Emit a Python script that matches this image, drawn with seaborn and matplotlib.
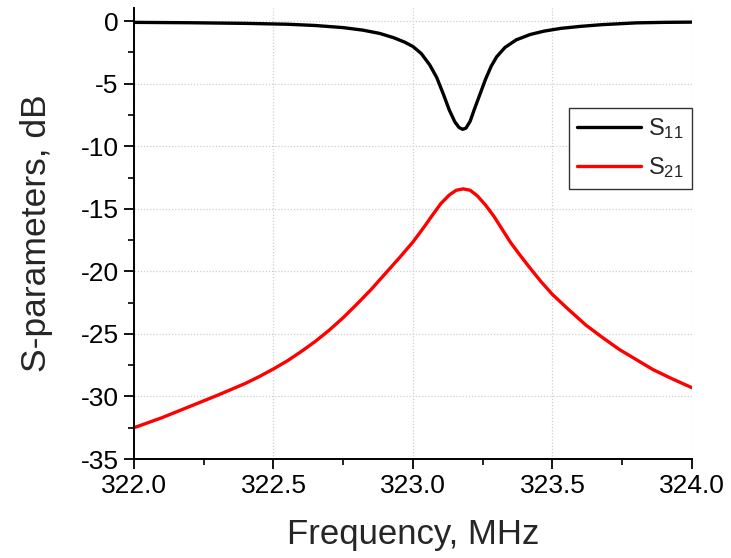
import numpy as np
import pandas as pd
import matplotlib
matplotlib.use("Agg")
import matplotlib.pyplot as plt
from matplotlib.ticker import MultipleLocator
import seaborn as sns

# S11 readings (frequency MHz, dB)
s11_freq = [322.0, 322.2, 322.4, 322.55, 322.65, 322.75, 322.82, 322.88, 322.93, 322.97,
            323.0, 323.03, 323.06, 323.085, 323.11, 323.13, 323.15, 323.165, 323.178,
            323.19, 323.205, 323.22, 323.24, 323.26, 323.28, 323.30, 323.33, 323.37,
            323.42, 323.47, 323.53, 323.6, 323.68, 323.8, 323.9, 324.0]
s11_db = [-0.10, -0.13, -0.18, -0.25, -0.35, -0.52, -0.72, -0.98, -1.32, -1.68,
          -2.03, -2.60, -3.50, -4.50, -5.90, -7.10, -8.05, -8.50, -8.65,
          -8.55, -8.00, -7.05, -5.85, -4.65, -3.62, -2.85, -2.10, -1.50,
          -1.07, -0.80, -0.58, -0.42, -0.28, -0.14, -0.10, -0.08]

# S21 readings (frequency MHz, dB)
s21_freq = [322.0, 322.1, 322.2, 322.3, 322.4, 322.45, 322.5, 322.55, 322.6, 322.65,
            322.7, 322.75, 322.8, 322.85, 322.9, 322.95, 323.0, 323.04, 323.07, 323.1,
            323.13, 323.155, 323.18, 323.205, 323.23, 323.26, 323.29, 323.32,
            323.35, 323.38, 323.42, 323.46, 323.5, 323.56, 323.62, 323.68, 323.74,
            323.8, 323.86, 323.93, 324.0]
s21_db = [-32.50, -31.70, -30.80, -29.90, -28.95, -28.40, -27.80, -27.15, -26.40, -25.60,
          -24.70, -23.70, -22.60, -21.45, -20.20, -18.95, -17.65, -16.45, -15.50, -14.58,
          -13.90, -13.52, -13.41, -13.52, -13.95, -14.70, -15.60, -16.65,
          -17.70, -18.60, -19.75, -20.85, -21.85, -23.10, -24.30, -25.30, -26.25,
          -27.05, -27.85, -28.60, -29.30]

series_names = ["$\\mathregular{S_{11}}$", "$\\mathregular{S_{21}}$"]
series_colors = ["#000000", "#ff0000"]

df = pd.concat([
    pd.DataFrame({"freq": s11_freq, "db": s11_db, "series": series_names[0]}),
    pd.DataFrame({"freq": s21_freq, "db": s21_db, "series": series_names[1]}),
], ignore_index=True)

sns.set_style("ticks")
plt.rcParams["font.family"] = ["Liberation Sans", "DejaVu Sans"]
plt.rcParams["mathtext.fontset"] = "custom"
plt.rcParams["mathtext.rm"] = "Liberation Sans"
plt.rcParams["mathtext.it"] = "Liberation Sans:italic"

fig = plt.figure(figsize=(7.31, 5.58), dpi=100)
ax = fig.add_axes([0.1833, 0.1774, 0.7633, 0.8083])

sns.lineplot(data=df, x="freq", y="db", hue="series", palette=series_colors,
             hue_order=series_names, linewidth=2.4, ax=ax, sort=False,
             estimator=None)
for ln in ax.get_lines():
    ln.set_solid_joinstyle("round")
    ln.set_solid_capstyle("round")

ax.set_xlim(322.0, 324.0)
ax.set_ylim(-35, 1.05)
ax.xaxis.set_major_locator(MultipleLocator(0.5))
ax.xaxis.set_minor_locator(MultipleLocator(0.25))
ax.yaxis.set_major_locator(MultipleLocator(5))
ax.yaxis.set_minor_locator(MultipleLocator(2.5))
ax.xaxis.set_major_formatter(matplotlib.ticker.FormatStrFormatter("%.1f"))
ax.yaxis.set_major_formatter(matplotlib.ticker.FuncFormatter(lambda v, p: f"{int(round(v))}"))

ax.grid(True, which="major", color="#cfcfcf", linestyle=(0, (1, 1.5)), linewidth=0.9)
ax.set_axisbelow(True)

for side in ["top", "right"]:
    ax.spines[side].set_visible(False)
for side in ["left", "bottom"]:
    ax.spines[side].set_linewidth(1.4)
    ax.spines[side].set_color("black")

ax.tick_params(which="major", direction="out", length=7, width=1.3, labelsize=19,
               colors="black", pad=4)
ax.tick_params(which="minor", direction="out", length=4, width=1.2, colors="black")

ax.set_xlabel("Frequency, MHz", fontsize=25, labelpad=14)
ax.set_ylabel("S-parameters, dB", fontsize=25.5, labelpad=20)

leg = ax.legend(loc="upper right", bbox_to_anchor=(1.0, 0.778), borderaxespad=0,
                fontsize=17, frameon=True, fancybox=False, handlelength=2.7,
                handletextpad=0.3, labelspacing=0.6, borderpad=0.35, title=None)
leg.get_frame().set_edgecolor("#333333")
leg.get_frame().set_linewidth(1.0)
leg.get_frame().set_alpha(1)

fig.savefig("out.png", dpi=100)
